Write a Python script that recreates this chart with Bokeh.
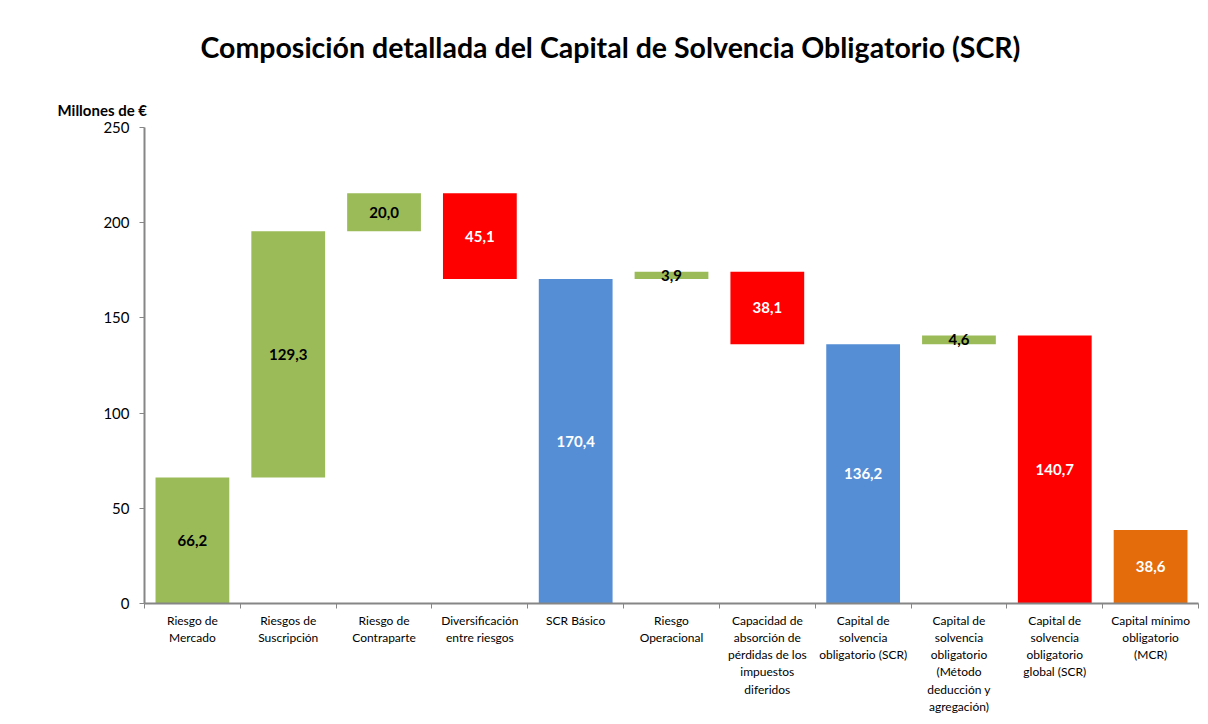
from bokeh.plotting import figure
from bokeh.models import Range1d, FixedTicker, ColumnDataSource, Title
from bokeh.core.properties import value
from bokeh.embed import file_html
from bokeh.resources import INLINE

categories = [
    "Riesgo de\nMercado",
    "Riesgos de\nSuscripción",
    "Riesgo de\nContraparte",
    "Diversificación\nentre riesgos",
    "SCR Básico",
    "Riesgo\nOperacional",
    "Capacidad de\nabsorción de\npérdidas de los\nimpuestos\ndiferidos",
    "Capital de\nsolvencia\nobligatorio (SCR)",
    "Capital de\nsolvencia\nobligatorio\n(Método\ndeducción y\nagregación)",
    "Capital de\nsolvencia\nobligatorio\nglobal (SCR)",
    "Capital mínimo\nobligatorio\n(MCR)",
]
values = [66.2, 129.3, 20.0, -45.1, 170.4, 3.9, -38.1, 136.2, 4.6, 140.7, 38.6]
kinds = ["step", "step", "step", "step", "total", "step", "step", "total", "step", "total", "total"]
bar_colors = ["#9BBB59", "#9BBB59", "#9BBB59", "#FF0000", "#558ED5", "#9BBB59",
              "#FF0000", "#558ED5", "#9BBB59", "#FF0000", "#E46C0A"]
label_colors = ["black", "black", "black", "white", "white", "black",
                "white", "white", "black", "white", "white"]
y_ticks = [0, 50, 100, 150, 200, 250]

FONT = "Lato"

# waterfall geometry
bottoms, tops = [], []
run = 0.0
for v, k in zip(values, kinds):
    if k == "total":
        bottoms.append(0.0)
        tops.append(v)
        run = v
    else:
        b, t = run, run + v
        bottoms.append(min(b, t))
        tops.append(max(b, t))
        run = t

n = len(categories)
xs = [i + 0.5 for i in range(n)]
src = ColumnDataSource(dict(
    x=xs, bottom=bottoms, top=tops, color=bar_colors,
    ymid=[(b + t) / 2 for b, t in zip(bottoms, tops)],
    txt=[f"{abs(v):.1f}".replace(".", ",") for v in values],
    tcolor=label_colors,
))

p = figure(width=1200, height=724, output_backend="svg", toolbar_location=None,
           x_range=Range1d(0, n), y_range=Range1d(0, 250),
           min_border_left=144, min_border_right=2, min_border_top=127,
           min_border_bottom=121)
p.outline_line_color = None
p.xgrid.visible = False
p.ygrid.visible = False
p.background_fill_color = "white"
p.border_fill_color = "white"

p.vbar(x="x", bottom="bottom", top="top", width=0.77, fill_color="color",
       line_color=None, source=src)
p.text(x="x", y="ymid", text="txt", text_color="tcolor", source=src,
       text_font=value(FONT), text_font_style="bold", text_font_size="15px",
       text_align="center", text_baseline="middle")

axis_color = "#868686"
xa = p.xaxis[0]
xa.ticker = FixedTicker(ticks=xs, minor_ticks=list(range(n + 1)))
xa.major_label_overrides = {x: c for x, c in zip(xs, categories)}
xa.major_tick_line_color = None
xa.minor_tick_line_color = axis_color
xa.minor_tick_out = 5
xa.minor_tick_in = 0
xa.axis_line_color = axis_color
xa.axis_line_width = 2
xa.major_label_text_font = FONT
xa.major_label_text_font_size = "12px"
xa.major_label_text_line_height = 1.15
xa.major_label_text_color = "black"
xa.major_label_standoff = 3

ya = p.yaxis[0]
ya.ticker = FixedTicker(ticks=y_ticks)
ya.minor_tick_line_color = None
ya.major_tick_line_color = axis_color
ya.major_tick_out = 5
ya.major_tick_in = 0
ya.axis_line_color = axis_color
ya.axis_line_width = 2
ya.major_label_text_font = FONT
ya.major_label_text_font_size = "15px"
ya.major_label_text_color = "black"
ya.major_label_standoff = 10

p.add_layout(Title(text="Millones de €", align="left", offset=-87,
                   text_font=FONT, text_font_style="bold", text_font_size="15px",
                   text_color="black", standoff=17), "above")
p.title.text = "Composición detallada del Capital de Solvencia Obligatorio (SCR)"
p.title.align = "left"
p.title.offset = 56
p.title.text_font = FONT
p.title.text_font_style = "bold"
p.title.text_font_size = "28.5px"
p.title.text_color = "black"
p.title.standoff = 53

open("out.html", "w").write(file_html(p, INLINE))
